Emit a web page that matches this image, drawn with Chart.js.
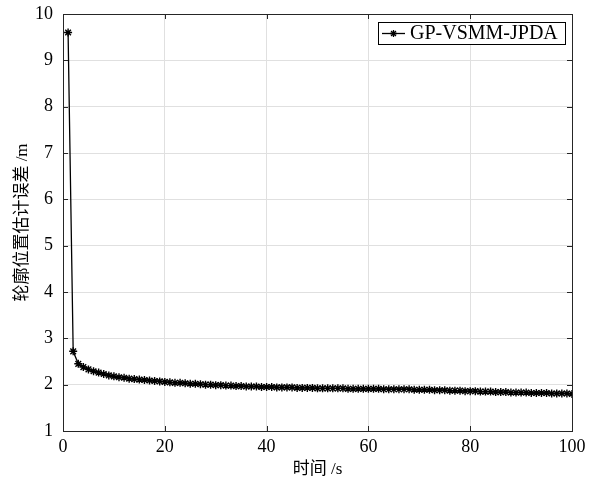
<!DOCTYPE html>
<html>
<head>
<meta charset="utf-8">
<script src="https://cdn.jsdelivr.net/npm/chart.js@4.4.0/dist/chart.umd.min.js"></script>
<style>
    html, body { margin: 0; padding: 0; background: #fff; }
    #wrap { width: 593px; height: 486px; }
</style>
</head>
<body>
<div id="wrap"><canvas id="grafico" width="593" height="486"></canvas></div>
<script>
// tempo (s)
const tempos = [];
for (let i = 1; i <= 100; i++) tempos.push(i);

// erro de posição do contorno (m)
const erros = [
    9.60, 2.72, 2.45, 2.38, 2.33, 2.29, 2.26, 2.23, 2.20, 2.18,
    2.16, 2.15, 2.13, 2.12, 2.11, 2.10, 2.09, 2.08, 2.07, 2.06,
    2.05, 2.04, 2.04, 2.03, 2.02, 2.02, 2.01, 2.00, 2.00, 1.99,
    1.99, 1.98, 1.98, 1.97, 1.97, 1.96, 1.96, 1.96, 1.95, 1.95,
    1.95, 1.94, 1.94, 1.94, 1.94, 1.93, 1.93, 1.93, 1.93, 1.92,
    1.92, 1.92, 1.92, 1.92, 1.92, 1.91, 1.91, 1.91, 1.91, 1.91,
    1.91, 1.91, 1.90, 1.90, 1.90, 1.90, 1.90, 1.90, 1.89, 1.89,
    1.89, 1.89, 1.88, 1.88, 1.88, 1.87, 1.87, 1.87, 1.86, 1.86,
    1.86, 1.85, 1.85, 1.85, 1.84, 1.84, 1.84, 1.83, 1.83, 1.83,
    1.83, 1.82, 1.82, 1.82, 1.82, 1.81, 1.81, 1.81, 1.81, 1.80
];

const nomeSerie = 'GP-VSMM-JPDA';
const tituloX = '时间 /s';
const tituloY = '轮廓位置估计误差 /m';
const ticksX = [0, 20, 40, 60, 80, 100];
const ticksY = [1, 2, 3, 4, 5, 6, 7, 8, 9, 10];

const fonte = '"Liberation Serif", "Times New Roman", "Noto Sans CJK SC", serif';

// moldura e marcas internas no estilo MATLAB
const molduraPlugin = {
    id: 'moldura',
    afterDraw(chart) {
        const ctx = chart.ctx;
        const a = chart.chartArea;
        const sx = chart.scales.x;
        const sy = chart.scales.y;
        ctx.save();
        ctx.strokeStyle = '#262626';
        ctx.lineWidth = 1;
        ctx.beginPath();
        ticksX.forEach(v => {
            const px = Math.round(sx.getPixelForValue(v)) + 0.5;
            ctx.moveTo(px, a.bottom); ctx.lineTo(px, a.bottom - 5);
            ctx.moveTo(px, a.top); ctx.lineTo(px, a.top + 5);
        });
        ticksY.forEach(v => {
            const py = Math.round(sy.getPixelForValue(v)) + 0.5;
            ctx.moveTo(a.left, py); ctx.lineTo(a.left + 5, py);
            ctx.moveTo(a.right, py); ctx.lineTo(a.right - 5, py);
        });
        ctx.stroke();
        ctx.strokeRect(Math.round(a.left) + 0.5, Math.round(a.top) + 0.5,
            Math.round(a.right - a.left), Math.round(a.bottom - a.top));

        // legenda
        const lx = 378, ly = 22, lw = 187, lh = 22;
        ctx.fillStyle = '#fff';
        ctx.fillRect(lx, ly, lw, lh);
        ctx.strokeStyle = '#000';
        ctx.strokeRect(lx + 0.5, ly + 0.5, lw, lh);
        ctx.lineWidth = 1.3;
        ctx.beginPath();
        ctx.moveTo(lx + 4, ly + 11.5);
        ctx.lineTo(lx + 27, ly + 11.5);
        ctx.stroke();
        const cx = lx + 15.5, cy = ly + 11.5, r = 3.5;
        ctx.beginPath();
        ctx.moveTo(cx - r, cy); ctx.lineTo(cx + r, cy);
        ctx.moveTo(cx, cy - r); ctx.lineTo(cx, cy + r);
        ctx.moveTo(cx - r * 0.7, cy - r * 0.7); ctx.lineTo(cx + r * 0.7, cy + r * 0.7);
        ctx.moveTo(cx - r * 0.7, cy + r * 0.7); ctx.lineTo(cx + r * 0.7, cy - r * 0.7);
        ctx.stroke();
        ctx.fillStyle = '#000';
        ctx.font = '20px ' + fonte;
        ctx.textBaseline = 'middle';
        ctx.fillText(nomeSerie, lx + 32, ly + 12);
        ctx.restore();
    }
};

const ctx = document.getElementById('grafico').getContext('2d');
const chart = new Chart(ctx, {
    type: 'line',
    data: {
        labels: tempos,
        datasets: [{
            label: nomeSerie,
            data: tempos.map((t, i) => ({ x: t, y: erros[i] })),
            borderColor: '#000',
            backgroundColor: '#000',
            borderWidth: 1.3,
            pointStyle: 'star',
            pointRadius: 4,
            pointBorderColor: '#000',
            pointBorderWidth: 1.4,
            tension: 0
        }]
    },
    options: {
        responsive: false,
        animation: false,
        layout: { padding: { top: 14, right: 21, left: 0, bottom: 0 } },
        plugins: {
            legend: { display: false },
            tooltip: { enabled: false }
        },
        scales: {
            x: {
                type: 'linear',
                min: 0,
                max: 100,
                afterBuildTicks: s => { s.ticks = ticksX.map(v => ({ value: v })); },
                afterFit: s => { s.height = 55; s.paddingLeft = 0; s.paddingRight = 0; },
                grid: { color: '#e0e0e0', drawTicks: false },
                border: { display: false },
                ticks: {
                    color: '#000',
                    padding: 5,
                    maxRotation: 0,
                    font: { family: fonte, size: 18 }
                },
                title: {
                    display: true,
                    text: tituloX,
                    color: '#000',
                    padding: { top: 0, bottom: 6 },
                    font: { family: fonte, size: 17 }
                }
            },
            y: {
                min: 1,
                max: 10,
                afterBuildTicks: s => { s.ticks = ticksY.map(v => ({ value: v })); },
                afterFit: s => { s.width = 63; s.paddingTop = 0; s.paddingBottom = 0; },
                grid: { color: '#e0e0e0', drawTicks: false },
                border: { display: false },
                ticks: {
                    color: '#000',
                    padding: 10,
                    font: { family: fonte, size: 18 }
                },
                title: {
                    display: true,
                    text: tituloY,
                    color: '#000',
                    padding: { top: 12, bottom: 4 },
                    font: { family: fonte, size: 17 }
                }
            }
        }
    },
    plugins: [molduraPlugin]
});
</script>
</body>
</html>
